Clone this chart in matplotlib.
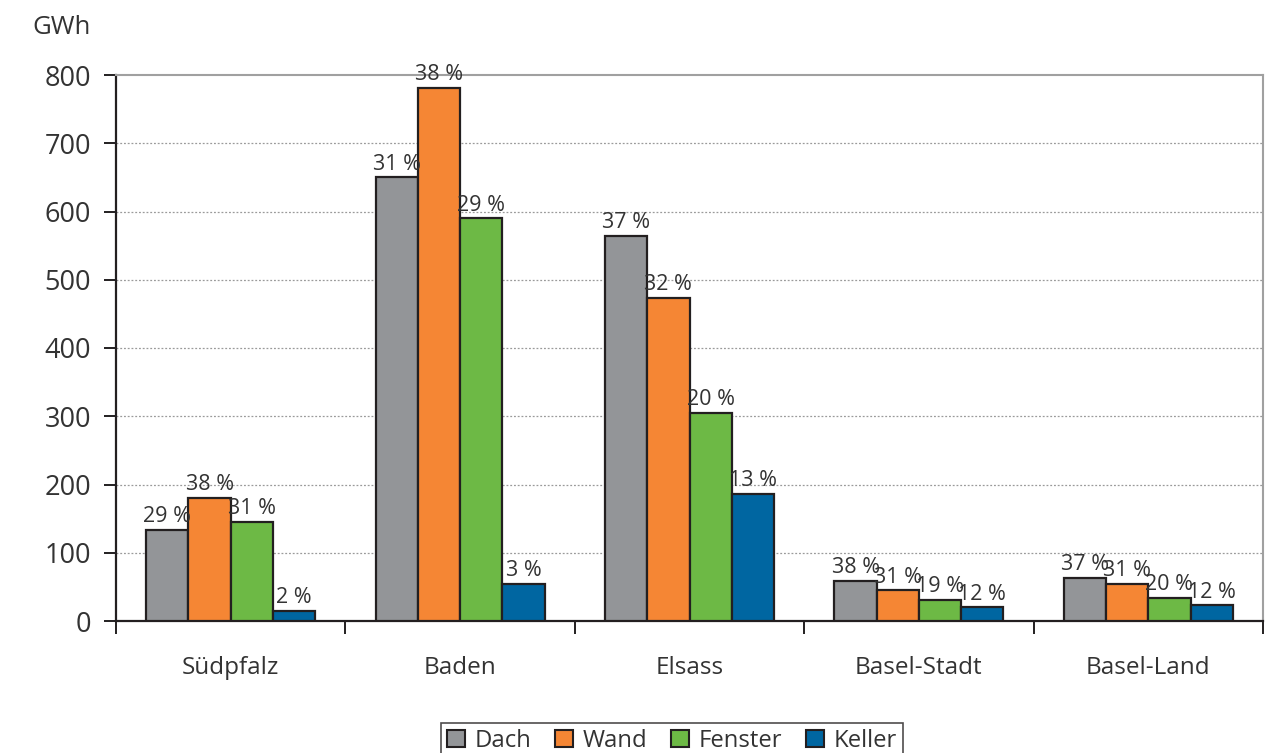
import matplotlib
matplotlib.use("Agg")
import matplotlib.pyplot as plt
import numpy as np
from matplotlib.patches import Patch

plt.rcParams['font.family'] = ['Open Sans', 'DejaVu Sans']

categories = ["Südpfalz", "Baden", "Elsass", "Basel-Stadt", "Basel-Land"]
series_names = ["Dach", "Wand", "Fenster", "Keller"]
dach = [133, 650, 564, 59, 63]
wand = [180, 781, 473, 45, 54]
fenster = [145, 590, 305, 31, 34]
keller = [15, 54, 186, 20, 23]
pct_dach = ["29 %", "31 %", "37 %", "38 %", "37 %"]
pct_wand = ["38 %", "38 %", "32 %", "31 %", "31 %"]
pct_fenster = ["31 %", "29 %", "20 %", "19 %", "20 %"]
pct_keller = ["2 %", "3 %", "13 %", "12 %", "12 %"]
yticks = [0, 100, 200, 300, 400, 500, 600, 700, 800]

colors = ["#939598", "#F58634", "#6DB945", "#0066A1"]
edge = "#231F20"
values = [dach, wand, fenster, keller]
pcts = [pct_dach, pct_wand, pct_fenster, pct_keller]

fig = plt.figure(figsize=(12.77, 7.53), dpi=100)
ax = fig.add_axes([116/1277, 1-621/753, (1263-116)/1277, (621-75)/753])

x = np.arange(len(categories))
bw = 0.184
for i, (vals, lbls, c) in enumerate(zip(values, pcts, colors)):
    pos = x + (i - 1.5) * bw
    ax.bar(pos, vals, width=bw, color=c, edgecolor=edge, linewidth=1.6, zorder=3)
    for px, v, l in zip(pos, vals, lbls):
        ax.annotate(l, (px, v), xytext=(0, 2), textcoords="offset points",
                    ha="center", va="bottom", fontsize=15.5, color="#333333", zorder=4)

ax.set_xlim(-0.5, len(categories) - 0.5)
ax.set_ylim(0, 800)
ax.set_yticks(yticks)
ax.set_yticklabels([str(t) for t in yticks], fontsize=19.5, color="#333333")
ax.tick_params(axis='y', direction='out', length=9, width=1.4, color="#231F20", pad=9)

ax.set_xticks(x)
ax.set_xticklabels(categories, fontsize=17.5, color="#333333")
ax.tick_params(axis='x', which='major', length=0, pad=25)
ax.set_xticks(np.arange(-0.5, len(categories)), minor=True)
ax.tick_params(axis='x', which='minor', direction='out', length=9, width=1.4, color="#231F20")

for y in yticks[1:-1]:
    ax.axhline(y, color="#9a9a9a", linestyle=(0, (1.5, 1.5)), linewidth=0.9, zorder=1)

ax.spines['left'].set_color("#231F20")
ax.spines['left'].set_linewidth(1.6)
ax.spines['bottom'].set_color("#231F20")
ax.spines['bottom'].set_linewidth(1.6)
ax.spines['top'].set_color("#a0a0a0")
ax.spines['top'].set_linewidth(1.5)
ax.spines['right'].set_color("#a0a0a0")
ax.spines['right'].set_linewidth(1.5)

fig.text(32/1277, 1-27/753, "GWh", fontsize=18.5, color="#333333", va="center", ha="left")

handles = [Patch(facecolor=c, edgecolor=edge, linewidth=1.5) for c in colors]
leg = fig.legend(handles, series_names, loc="upper center", bbox_to_anchor=(672/1277, 1-711/753),
                 ncol=4, fontsize=17.2, frameon=True, fancybox=False, handlelength=0.75,
                 handleheight=0.75, handletextpad=0.4, columnspacing=1.0, borderpad=0.25,
                 labelcolor="#333333")
leg.get_frame().set_edgecolor("#231F20")
leg.get_frame().set_linewidth(1.2)

fig.savefig("out.png", dpi=100)
